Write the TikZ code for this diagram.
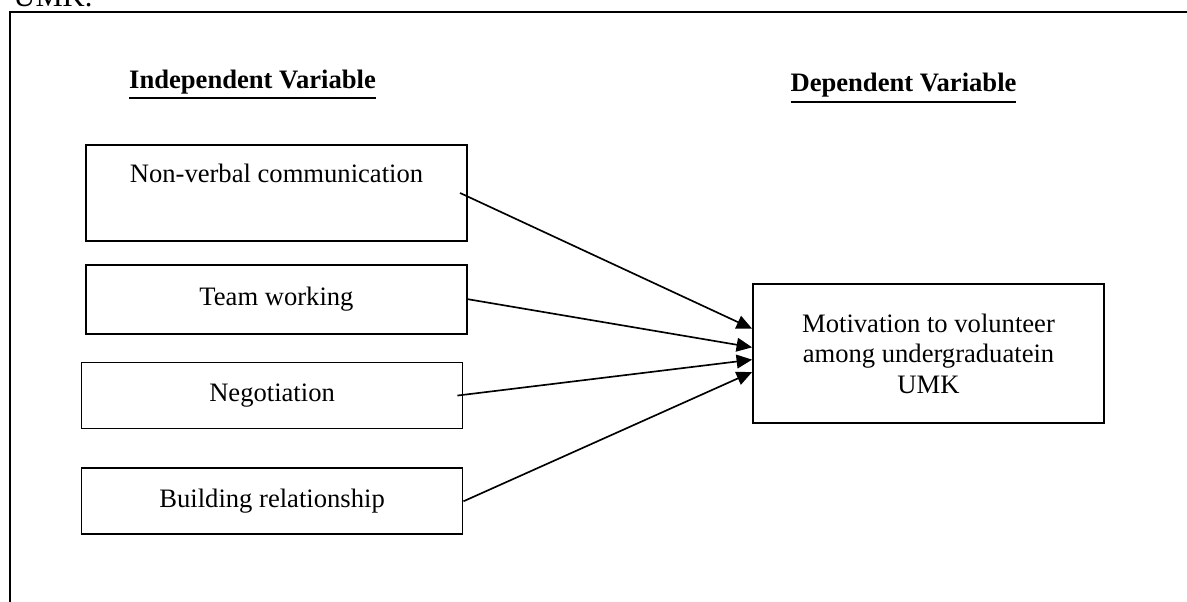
\documentclass[tikz,border=0pt]{standalone}
\usepackage{fontspec}
\setmainfont{Liberation Serif}
\newcommand{\thickul}[1]{\leavevmode\vtop{\hbox{#1}\kern1.4pt\hrule height 0.9pt}}
\usetikzlibrary{arrows.meta}
\usetikzlibrary{positioning}
\tikzset{>={Triangle[length=7pt,width=6.2pt]}}

\begin{document}
\begin{tikzpicture}[
		x=0.451pt, y=-0.451pt,
		font=\fontsize{12}{13.8}\selectfont,
		frame/.style = {
			draw, line width=1.1pt
		},
		factor/.style = {
			rectangle, draw, line width=0.8pt,
			align=center,
			minimum width=171.8pt,
			minimum height=29.8pt
		},
		outcome/.style = {
			rectangle, draw, line width=0.8pt,
			align=center,
			minimum width=158.3pt,
			minimum height=62.7pt
		},
		heading/.style = {
			anchor=base,
			font=\fontsize{12}{13.8}\selectfont\bfseries
		}
	]
	\useasboundingbox (0,0) rectangle (1187,601);
	\node[anchor=base west, inner sep=0pt, font=\fontsize{13.8}{16}\selectfont] (umk) at (13,7) {UMK.};
	\draw[frame] (10,12) rectangle (1220,650);
	\node[heading] (indep) at (252.5,88) {\thickul{Independent Variable}};
	\node[heading] (dep) at (903.5,92) {\thickul{Dependent Variable}};
	\node[factor, minimum height=43.3pt] (nvc) at (276.5,193)
		{Non-verbal communication\\ \strut};
	\node[factor, minimum height=31.1pt, below=9.9pt of nvc] (team) {Team working};
	\node[factor, below=12.2pt of team, xshift=-2pt] (nego) {Negotiation};
	\node[factor, below=17.1pt of nego] (build) {Building relationship};
	\node[outcome] (motiv) at (928.5,353.5)
		{Motivation to volunteer\\among undergraduatein\\UMK};
	\draw[->, line width=0.75pt] ([xshift=-3.5pt]nvc.east) -- (motiv.172);
	\draw[->, line width=0.75pt] (team.east) -- (motiv.178);
	\draw[->, line width=0.75pt] ([xshift=-2.7pt]nego.east) -- (motiv.182);
	\draw[->, line width=0.75pt] (build.east) -- (motiv.186);
\end{tikzpicture}
\end{document}
